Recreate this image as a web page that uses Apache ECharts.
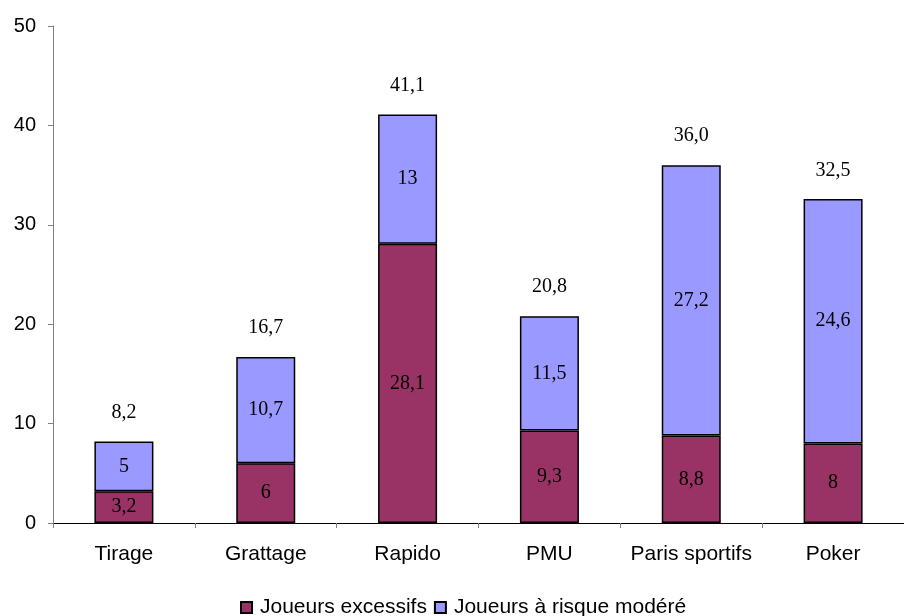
<!DOCTYPE html>
<html>
<head>
<meta charset="utf-8">
<script src="https://cdn.jsdelivr.net/npm/echarts@6/dist/echarts.min.js"></script>
<style>
  html, body { margin: 0; padding: 0; background: #fff; }
  #chart { width: 904px; height: 616px; }
</style>
</head>
<body>
<div id="chart"></div>
<script>
// Game types on the horizontal axis
const categories = ['Tirage', 'Grattage', 'Rapido', 'PMU', 'Paris sportifs', 'Poker'];
// Share of excessive gamblers (bottom segment)
const excessifs = [3.2, 6, 28.1, 9.3, 8.8, 8];
// Share of moderate-risk gamblers (top segment)
const risqueModere = [5, 10.7, 13, 11.5, 27.2, 24.6];
// Totals printed above each stack
const totals = [8.2, 16.7, 41.1, 20.8, 36.0, 32.5];
// Value axis ticks
const yTicks = [0, 10, 20, 30, 40, 50];

const frNum = v => String(v).replace('.', ',');
const frTotal = v => v.toFixed(1).replace('.', ',');

const sans = 'Liberation Sans, Arial, sans-serif';
const serif = 'Liberation Serif, Times New Roman, serif';

const valueLabel = {
  show: true,
  position: 'inside',
  fontFamily: serif,
  fontSize: 20,
  color: '#000',
  textBorderWidth: 0,
  textShadowBlur: 0,
  formatter: p => frNum(p.value)
};

const chart = echarts.init(document.getElementById('chart'), null, { renderer: 'canvas' });

chart.setOption({
  animation: false,
  backgroundColor: '#ffffff',
  grid: { left: 53, right: -9, top: 26, bottom: 93, containLabel: false },
  legend: {
    data: ['Joueurs excessifs', 'Joueurs à risque modéré'],
    left: 240,
    top: 597,
    itemWidth: 11,
    itemHeight: 11,
    itemGap: 7,
    icon: 'rect',
    padding: 0,
    textStyle: { fontFamily: sans, fontSize: 21, lineHeight: 19, color: '#000', padding: [0, 0, 0, 3] }
  },
  xAxis: {
    type: 'category',
    data: categories,
    axisLine: { show: true, lineStyle: { color: '#000', width: 1 } },
    axisTick: { show: true, length: 5, alignWithLabel: false, lineStyle: { color: '#808080' } },
    axisLabel: { fontFamily: sans, fontSize: 21, color: '#000', margin: 21, interval: 0 },
    splitLine: { show: false }
  },
  yAxis: {
    type: 'value',
    min: yTicks[0],
    max: yTicks[yTicks.length - 1],
    interval: 10,
    axisLine: { show: true, lineStyle: { color: '#808080', width: 1 } },
    axisTick: { show: true, length: 5, inside: false, lineStyle: { color: '#808080' } },
    axisLabel: { fontFamily: sans, fontSize: 20, color: '#000', margin: 17 },
    splitLine: { show: false }
  },
  series: [
    {
      name: 'Joueurs excessifs',
      type: 'bar',
      stack: 'total',
      barWidth: 59,
      data: excessifs,
      itemStyle: { color: '#993366', borderColor: '#000', borderWidth: 1.5 },
      label: valueLabel
    },
    {
      name: 'Joueurs à risque modéré',
      type: 'bar',
      stack: 'total',
      barWidth: 59,
      data: risqueModere,
      itemStyle: { color: '#9999FF', borderColor: '#000', borderWidth: 1.5 },
      label: valueLabel
    },
    {
      name: 'Total',
      type: 'scatter',
      data: totals,
      symbolSize: 0.01,
      itemStyle: { color: '#ffffff', opacity: 1 },
      silent: true,
      z: 5,
      label: {
        show: true,
        position: 'top',
        distance: 19,
        fontFamily: serif,
        fontSize: 20,
        color: '#000000',
        opacity: 1,
        textBorderWidth: 0,
        formatter: p => frTotal(p.value)
      }
    }
  ]
});
</script>
</body>
</html>
